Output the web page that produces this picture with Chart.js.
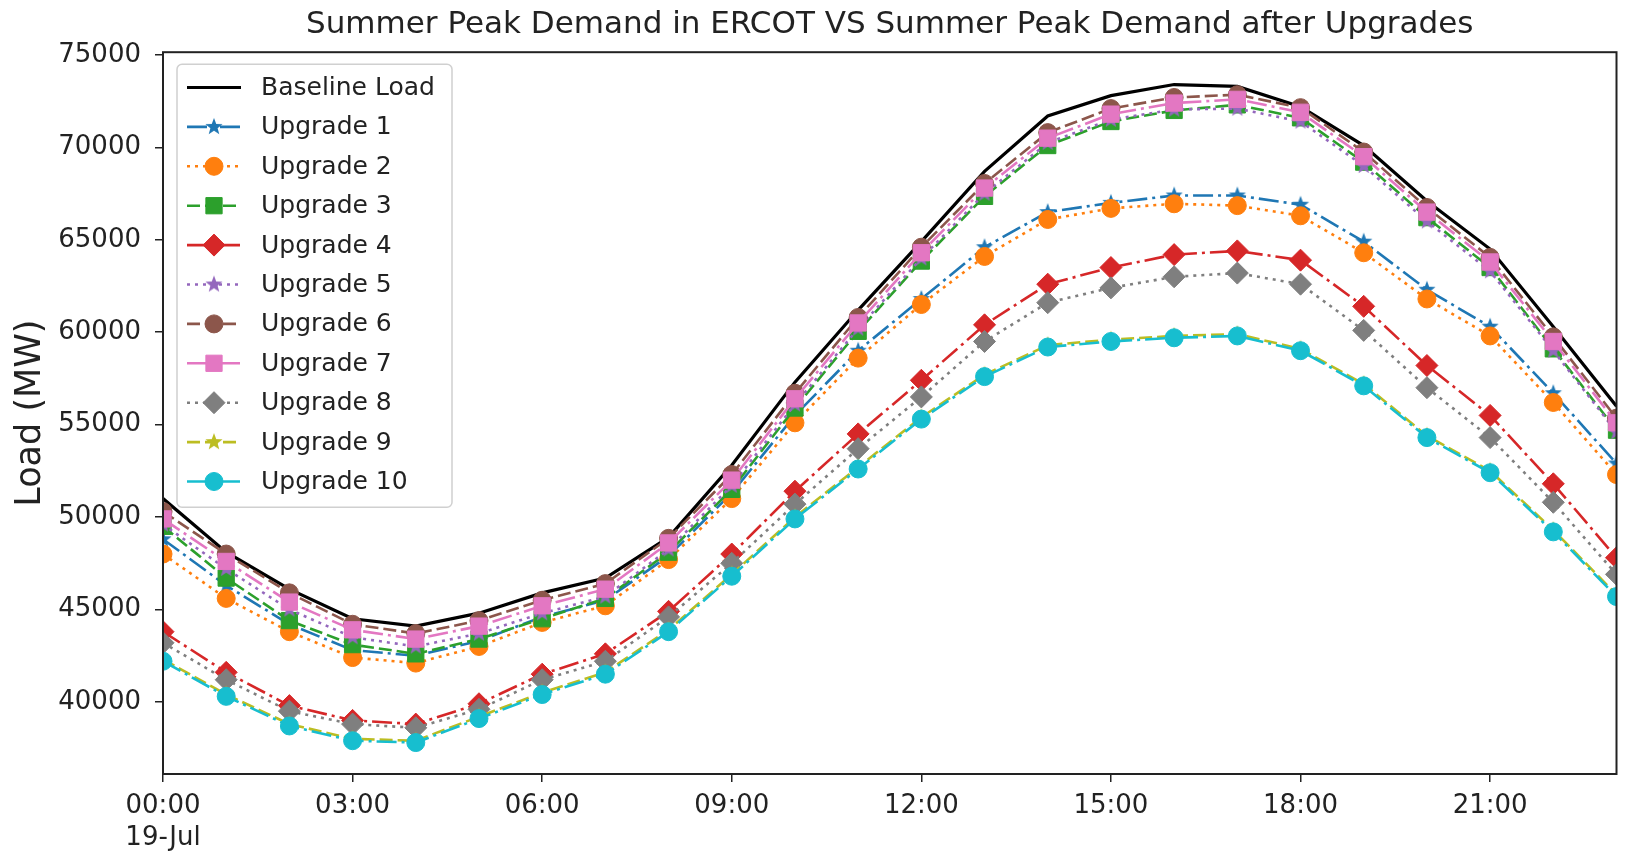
<!DOCTYPE html>
<html>
<head>
<meta charset="utf-8">
<script src="https://cdn.jsdelivr.net/npm/chart.js@4.4.1/dist/chart.umd.min.js"></script>
<style>
  html, body { margin: 0; padding: 0; background: #fff; }
</style>
</head>
<body>
<canvas id="loadChart" width="1629" height="852"></canvas>
<script>
// Hourly load on 19-Jul (MW)
const hours = [0, 1, 2, 3, 4, 5, 6, 7, 8, 9, 10, 11, 12, 13, 14, 15, 16, 17, 18, 19, 20, 21, 22, 23];
const xTickHours = [0, 3, 6, 9, 12, 15, 18, 21];
const xTickText = ['00:00', '03:00', '06:00', '09:00', '12:00', '15:00', '18:00', '21:00'];
const dateText = '19-Jul';
const yTickValues = [40000, 45000, 50000, 55000, 60000, 65000, 70000, 75000];
const seriesNames = ['Upgrade 1', 'Upgrade 2', 'Upgrade 3', 'Upgrade 4', 'Upgrade 5',
                     'Upgrade 6', 'Upgrade 7', 'Upgrade 8', 'Upgrade 9', 'Upgrade 10'];

const baselineLoad = [51000, 48100, 46100, 44500, 44100, 44800, 45900, 46700, 48900, 52800, 57300, 61200,
                      64900, 68700, 71700, 72800, 73400, 73300, 72200, 70100, 67100, 64500, 60300, 56000];
const upgrade1 = [48800, 46300, 44200, 42800, 42500, 43300, 44600, 45500, 47900, 51300, 55500, 59000,
                  61800, 64600, 66500, 67000, 67400, 67400, 66900, 64900, 62300, 60300, 56700, 52900];
const upgrade2 = [48000, 45600, 43800, 42400, 42100, 43000, 44300, 45200, 47700, 51000, 55100, 58600,
                  61500, 64100, 66100, 66700, 66950, 66850, 66300, 64300, 61800, 59800, 56200, 52300];
const upgrade3 = [49500, 46700, 44400, 43100, 42600, 43400, 44500, 45600, 48100, 51500, 55900, 60050,
                  63850, 67350, 70100, 71400, 72000, 72300, 71600, 69200, 66200, 63500, 59100, 54700];
const upgrade4 = [43800, 41600, 39800, 39000, 38800, 39900, 41500, 42600, 44900, 48000, 51400, 54500,
                  57400, 60400, 62600, 63500, 64200, 64400, 63900, 61400, 58200, 55500, 51800, 47800];
const upgrade5 = [49600, 47200, 45000, 43500, 43000, 43700, 44800, 45700, 48250, 51700, 56100, 60200,
                  64000, 67500, 70250, 71500, 72050, 72100, 71400, 69000, 66000, 63300, 59000, 54600];
const upgrade6 = [50300, 48000, 45900, 44200, 43700, 44400, 45500, 46400, 48850, 52300, 56700, 60800,
                  64600, 68050, 70800, 72100, 72700, 72850, 72150, 69750, 66750, 64050, 59750, 55350];
const upgrade7 = [49900, 47600, 45400, 43900, 43400, 44100, 45200, 46100, 48600, 52000, 56400, 60500,
                  64300, 67800, 70500, 71800, 72400, 72600, 71900, 69500, 66500, 63800, 59500, 55100];
const upgrade8 = [43200, 41200, 39500, 38800, 38600, 39600, 41200, 42200, 44600, 47500, 50700, 53700,
                  56500, 59500, 61600, 62400, 63000, 63200, 62600, 60100, 57000, 54300, 50800, 46900];
const upgrade9 = [42300, 40400, 38800, 38000, 37900, 39200, 40500, 41600, 43900, 46900, 50000, 52700,
                  55400, 57700, 59300, 59600, 59800, 59900, 59100, 57200, 54400, 52500, 49300, 45800];
const upgrade10 = [42200, 40300, 38700, 37900, 37800, 39100, 40400, 41500, 43800, 46800, 49900, 52600,
                   55300, 57600, 59200, 59500, 59700, 59800, 59000, 57100, 54300, 52400, 49200, 45700];

const upgrades = [upgrade1, upgrade2, upgrade3, upgrade4, upgrade5, upgrade6, upgrade7, upgrade8, upgrade9, upgrade10];

// matplotlib tab10 colours, marker cycle and line style cycle
const colors = ['#1f77b4', '#ff7f0e', '#2ca02c', '#d62728', '#9467bd', '#8c564b', '#e377c2', '#7f7f7f', '#bcbd22', '#17becf'];
const markerCycle = ['star', 'circle', 'rect', 'rectRot'];
const dashCycle = [[20, 5, 3, 5], [3, 5], [13, 5]];
const FONT = 'DejaVu Sans';
const TEXT = '#222';

// filled star marker, like matplotlib '*'
function starImage(color, r) {
  const c = document.createElement('canvas');
  const s = Math.ceil(r * 2 + 2);
  c.width = s; c.height = s;
  const g = c.getContext('2d');
  g.beginPath();
  for (let k = 0; k < 10; k++) {
    const rad = k % 2 === 0 ? r : r * 0.42;
    const a = -Math.PI / 2 + k * Math.PI / 5;
    g.lineTo(s / 2 + rad * Math.cos(a), s / 2 + rad * Math.sin(a));
  }
  g.closePath();
  g.fillStyle = color;
  g.fill();
  return c;
}

function toPoints(vals) {
  return hours.map((h, i) => ({ x: h, y: vals[i] }));
}

const markerRadius = { star: 9, circle: 9, rect: 11.5, rectRot: 11 };

const datasets = [{
  label: 'Baseline Load',
  data: toPoints(baselineLoad),
  borderColor: '#000',
  backgroundColor: '#000',
  borderWidth: 3.2,
  pointRadius: 0,
  clip: 0,
  order: 20
}];

upgrades.forEach((vals, i) => {
  const m = markerCycle[i % 4];
  datasets.push({
    label: seriesNames[i],
    data: toPoints(vals),
    borderColor: colors[i],
    backgroundColor: colors[i],
    borderWidth: 2.6,
    borderDash: dashCycle[i % 3],
    pointStyle: m === 'star' ? starImage(colors[i], 9) : m,
    pointRadius: markerRadius[m],
    pointBorderWidth: 1,
    pointBorderColor: colors[i],
    pointBackgroundColor: colors[i],
    clip: 0,
    order: 19 - i
  });
});

// axes box like matplotlib spines
const frame = {
  id: 'frame',
  afterDatasetsDraw(chart) {
    const { ctx, chartArea: a } = chart;
    ctx.save();
    ctx.strokeStyle = TEXT;
    ctx.lineWidth = 2;
    ctx.strokeRect(a.left, a.top, a.right - a.left, a.bottom - a.top);
    ctx.restore();
  }
};

// legend inside the axes, upper left
const innerLegend = {
  id: 'innerLegend',
  afterDraw(chart) {
    const { ctx, chartArea: a } = chart;
    const bx = a.left + 14, by = a.top + 12, bw = 275, bh = 443;
    ctx.save();
    ctx.beginPath();
    ctx.roundRect(bx, by, bw, bh, 5);
    ctx.fillStyle = 'rgba(255,255,255,0.8)';
    ctx.fill();
    ctx.strokeStyle = '#d0d0d0';
    ctx.lineWidth = 1.5;
    ctx.stroke();

    chart.data.datasets.forEach((ds, i) => {
      const cy = by + 23.3 + i * 39.4;
      ctx.save();
      ctx.strokeStyle = ds.borderColor;
      ctx.lineWidth = ds.borderWidth;
      ctx.setLineDash(ds.borderDash || []);
      ctx.beginPath();
      ctx.moveTo(bx + 10, cy);
      ctx.lineTo(bx + 64, cy);
      ctx.stroke();
      ctx.restore();
      if (ds.pointRadius > 0) {
        ctx.save();
        ctx.fillStyle = ds.pointBackgroundColor;
        ctx.strokeStyle = ds.pointBorderColor;
        ctx.lineWidth = 1;
        Chart.helpers.drawPoint(ctx, { pointStyle: ds.pointStyle, radius: ds.pointRadius, rotation: 0, borderWidth: 1 }, bx + 37, cy);
        ctx.restore();
      }
      ctx.fillStyle = TEXT;
      ctx.font = '25px "' + FONT + '"';
      ctx.textBaseline = 'middle';
      ctx.textAlign = 'left';
      ctx.fillText(ds.label, bx + 84, cy + 1);
    });
    ctx.restore();
  }
};

const ctx = document.getElementById('loadChart').getContext('2d');
const loadChart = new Chart(ctx, {
  type: 'line',
  data: { datasets: datasets },
  options: {
    responsive: false,
    animation: false,
    layout: { padding: { left: 0, right: 3, top: 0, bottom: 0 } },
    plugins: {
      legend: { display: false },
      tooltip: { enabled: false },
      title: {
        display: true,
        fullSize: false,
        text: 'Summer Peak Demand in ERCOT VS Summer Peak Demand after Upgrades',
        color: TEXT,
        font: { family: FONT, size: 31, weight: 'normal' },
        padding: { top: 6, bottom: 9 }
      }
    },
    scales: {
      x: {
        type: 'linear',
        min: 0,
        max: 23,
        border: { display: false },
        grid: { drawOnChartArea: false, drawTicks: true, tickLength: 8, color: TEXT, lineWidth: 1.5 },
        ticks: {
          autoSkip: false,
          maxRotation: 0,
          padding: 9,
          color: TEXT,
          font: { family: FONT, size: 26 },
          callback: function (value) {
            const label = xTickText[xTickHours.indexOf(value)];
            return value === 0 ? [label, dateText] : label;
          }
        },
        afterBuildTicks: function (scale) { scale.ticks = xTickHours.map(v => ({ value: v })); },
        afterFit: function (scale) { scale.height = 78; }
      },
      y: {
        min: 36100,
        max: 75150,
        border: { display: false },
        grid: { drawOnChartArea: false, drawTicks: true, tickLength: 8, color: TEXT, lineWidth: 1.5 },
        ticks: {
          padding: 14,
          color: TEXT,
          font: { family: FONT, size: 26 },
          callback: function (value) { return String(value); }
        },
        afterBuildTicks: function (scale) { scale.ticks = yTickValues.map(v => ({ value: v })); },
        title: {
          display: true,
          text: 'Load (MW)',
          color: TEXT,
          font: { family: FONT, size: 35 },
          padding: { top: 10, bottom: 0 }
        },
        afterFit: function (scale) { scale.width = 163; }
      }
    }
  },
  plugins: [frame, innerLegend]
});
</script>
</body>
</html>
